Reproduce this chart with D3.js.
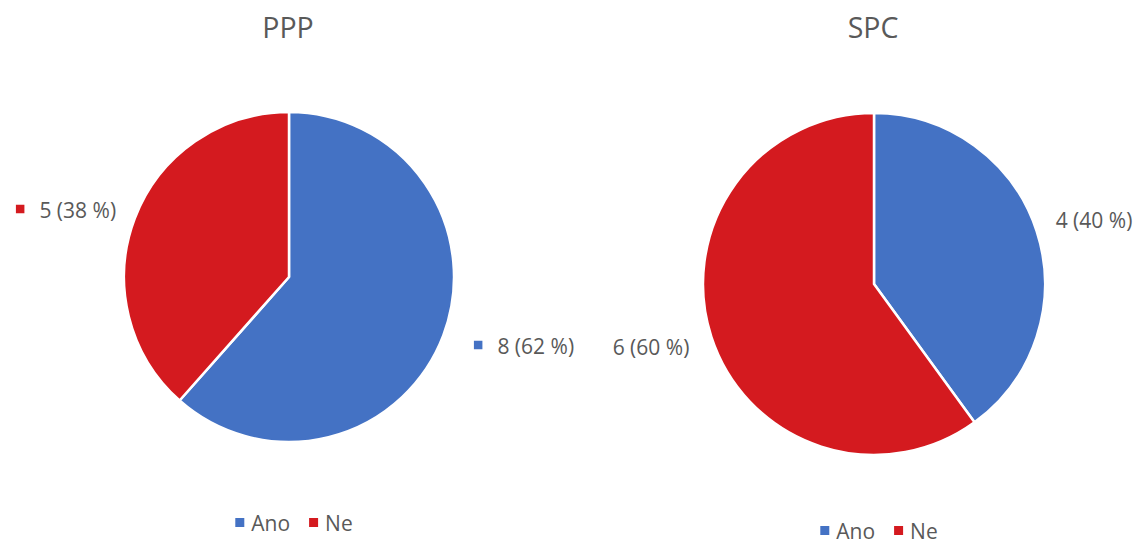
<!DOCTYPE html>
<html>
<head>
<meta charset="utf-8">
<script src="https://cdn.jsdelivr.net/npm/d3@7"></script>
<style>
  html, body { margin: 0; padding: 0; background: #ffffff; }
  svg { display: block; }
  text { font-family: "Open Sans", "DejaVu Sans", sans-serif; fill: #595959; }
</style>
</head>
<body>
<svg id="chart" width="1135" height="545"></svg>
<script>
// Answers (Ano / Ne) for each group
const categories = ["Ano", "Ne"];
const pppValues = [8, 5];
const spcValues = [4, 6];
const chartTitles = ["PPP", "SPC"];
const sliceColors = ["#4472C4", "#D41A1F"];

// Layout of the two pies: centre, radius, title / legend baselines,
// label offsets (from the pie centre) per slice and whether labels carry a key.
const layouts = [
  { cx: 289, cy: 277, r: 165, titleY: 38, legendY: 531, legendShift: 5,
    labelOffsets: [[235, 70], [-223, -66]], labelKeys: true },
  { cx: 874, cy: 284, r: 171, titleY: 38, legendY: 539, legendShift: 5,
    labelOffsets: [[220, -63], [-223, 64]], labelKeys: false }
];
const seriesValues = [pppValues, spcValues];

const svg = d3.select("#chart");
const color = d3.scaleOrdinal().domain(categories).range(sliceColors);
const pie = d3.pie().sort(null).value(d => d.value);

const labelFont = 21;
const keySize = 8.5;
const keyGap = 15;

seriesValues.forEach((values, i) => {
  const L = layouts[i];
  const data = categories.map((c, j) => ({ cat: c, value: values[j] }));
  const total = d3.sum(values);
  const arcs = pie(data);
  const arc = d3.arc().innerRadius(0).outerRadius(L.r);

  const g = svg.append("g");

  // title
  g.append("text")
    .attr("x", L.cx - 1)
    .attr("y", L.titleY)
    .attr("text-anchor", "middle")
    .style("font-size", "28.5px")
    .text(chartTitles[i]);

  // slices
  g.append("g")
    .attr("transform", `translate(${L.cx},${L.cy})`)
    .selectAll("path")
    .data(arcs)
    .join("path")
    .attr("d", arc)
    .attr("fill", d => color(d.data.cat))
    .attr("stroke", "#ffffff")
    .attr("stroke-width", 2.5)
    .attr("stroke-linejoin", "round");

  // data labels: "value (percent %)"
  arcs.forEach((a, j) => {
    const [dx, dy] = L.labelOffsets[j];
    const label = `${a.data.value} (${Math.round(a.data.value / total * 100)} %)`;
    const lg = g.append("g");
    const t = lg.append("text")
      .style("font-size", labelFont + "px")
      .text(label);
    const tw = t.node().getComputedTextLength();
    const totalW = (L.labelKeys ? keySize + keyGap : 0) + tw;
    const x0 = L.cx + dx - totalW / 2;
    const yMid = L.cy + dy;
    const baseline = yMid + 0.357 * labelFont;
    if (L.labelKeys) {
      lg.append("rect")
        .attr("x", x0)
        .attr("y", yMid - 2 - keySize / 2)
        .attr("width", keySize)
        .attr("height", keySize)
        .attr("fill", color(a.data.cat));
    }
    t.attr("x", x0 + (L.labelKeys ? keySize + keyGap : 0))
      .attr("y", baseline);
  });

  // legend
  const leg = g.append("g");
  let x = 0;
  const legSq = 9, legGap = 7, itemGap = 19;
  categories.forEach((c, j) => {
    const item = leg.append("g");
    item.append("rect")
      .attr("x", x)
      .attr("y", -13)
      .attr("width", legSq)
      .attr("height", legSq)
      .attr("fill", color(c));
    const t = item.append("text")
      .attr("x", x + legSq + legGap)
      .attr("y", 0)
      .style("font-size", "21px")
      .text(c);
    x += legSq + legGap + t.node().getComputedTextLength() + (j < categories.length - 1 ? itemGap : 0);
  });
  leg.attr("transform", `translate(${L.cx + L.legendShift - x / 2},${L.legendY})`);
});
</script>
</body>
</html>
